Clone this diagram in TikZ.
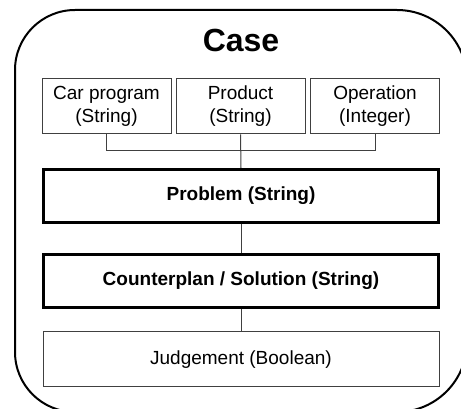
\documentclass[tikz,border=0pt]{standalone}
\usepackage{fontspec}
\setmainfont{Liberation Sans}
\begin{document}
\begin{tikzpicture}[x=0.75pt,y=-0.75pt,
  field/.style={draw=black!75,line width=0.75pt,minimum width=96.75pt,minimum height=41.25pt,
    align=center,inner sep=0pt,font=\fontsize{14.25pt}{17.25pt}\selectfont},
  keybox/.style={draw=black,line width=2.25pt,minimum width=296.25pt,minimum height=39.75pt,
    inner sep=0pt,font=\fontsize{14.25pt}{17.25pt}\selectfont\bfseries},
  plainbox/.style={draw=black!75,line width=0.75pt,minimum width=297pt,minimum height=40.9pt,
    inner sep=0pt,font=\fontsize{14.25pt}{17.25pt}\selectfont},
  wire/.style={draw=black!75,line width=0.75pt},
  frame/.style={draw=black,line width=1.5pt}]
  \useasboundingbox (0,0) rectangle (461,409);
  \clip (0,0) rectangle (461,409);
  % outer frame of the entity
  \draw[frame] (15,70) arc[start angle=180,end angle=270,radius=60]
    -- (397,10) arc[start angle=270,end angle=360,radius=70]
    -- (467,342) arc[start angle=0,end angle=90,radius=70]
    -- (75,412) arc[start angle=90,end angle=180,radius=60] -- cycle;
  \node[anchor=base,font=\fontsize{24pt}{28pt}\selectfont\bfseries] (title) at (241,52) {Case};
  % attribute fields
  \node[field] (car)  at (106.5,106.5) {Car program\\(String)};
  \node[field] (prod) at (240.5,106.5) {Product\\(String)};
  \node[field] (opr)  at (375,106.5)   {Operation\\(Integer)};
  \node[keybox] (prob) at (241,196) {Problem (String)};
  \node[keybox] (sol)  at (241,281) {Counterplan / Solution (String)};
  \node[plainbox] (judge) at (241,359.25) {Judgement (Boolean)};
  % connectors
  \coordinate (bus) at (241,151);
  \draw[wire] (car.south) -- (car.south |- bus) -- (opr.south |- bus) -- (opr.south);
  \draw[wire] (prod.south) -- (prob.north);
  \draw[wire] (prob.south) -- (sol.north);
  \draw[wire] (sol.south) -- (judge.north);
\end{tikzpicture}
\end{document}
